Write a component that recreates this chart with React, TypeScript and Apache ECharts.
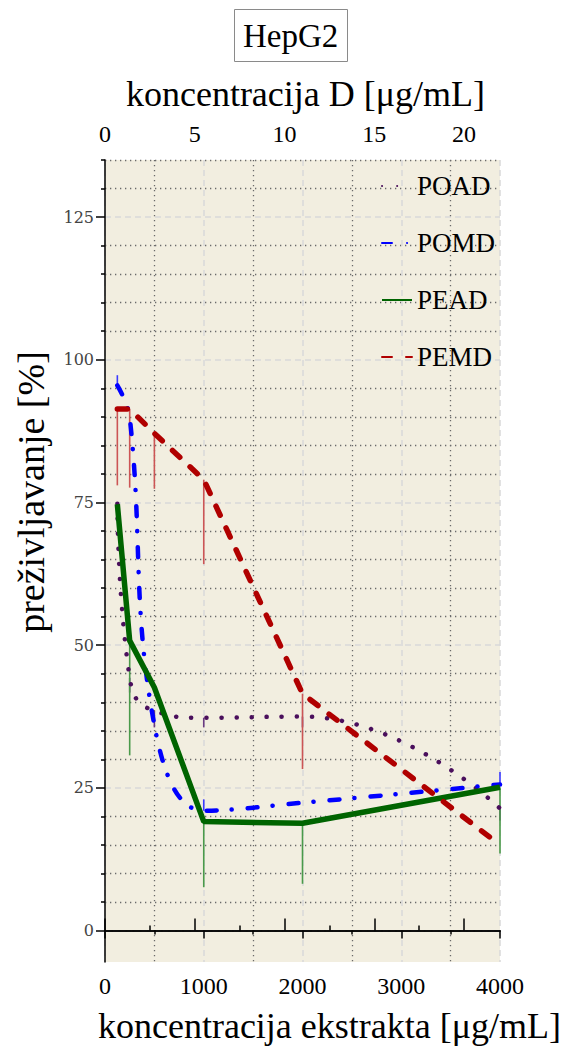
import React, { useEffect, useRef } from 'react';
import * as echarts from 'echarts';

// ---- data ----
const concentrations = [125, 250, 500, 1000, 2000, 4000];
const seriesNames = ['POAD', 'POMD', 'PEAD', 'PEMD'];
const poad = [74.8, 44.3, 38.5, 37.3, 37.5, 21.4];
const pomd = [95.5, 90.0, 36.0, 21.0, 22.4, 25.6];
const pead = [74.7, 50.8, 42.6, 19.1, 18.8, 25.1];
const pemd = [91.4, 91.4, 87.1, 79.0, 41.5, 15.0];

// end values of the (one-sided) error bars, null = not visible
const poadErr = [null, 41.7, 35.6, 35.6, 35.6, 19.3];
const pomdErr = [97.3, null, null, 23.0, null, 27.8];
const peadErr = [null, 30.7, null, 7.6, 8.2, 13.5];
const pemdErr = [78.0, 77.6, 77.4, 64.2, 28.3, null];

// ---- ticks ----
const yMajorTicks = [0, 25, 50, 75, 100, 125];
const yMinorTicks = [5, 10, 15, 20, 30, 35, 40, 45, 55, 60, 65, 70, 80, 85, 90, 95, 105, 110, 115, 120, 130, 135];
const topMajorTicks = [0, 5, 10, 15, 20];
const topMinorTicks = [2.5, 7.5, 12.5, 17.5];
const zeroLevel = [0];

const SERIF = 'Liberation Serif';
const colors = { POAD: '#4a0f5c', POMD: '#0000ff', PEAD: '#006400', PEMD: '#b00000' };
const errColors = { POAD: '#6a3a80', POMD: '#3a3aff', PEAD: '#4a9a4a', PEMD: '#cc5555' };

function pairs(vals: number[]) {
  return concentrations.map((c, i) => [c, vals[i]]);
}
function errPairs(vals: number[], errs: (number | null)[]) {
  const out: number[][] = [];
  concentrations.forEach((c, i) => {
    const e = errs[i];
    if (e !== null) out.push([c, vals[i], e]);
  });
  return out;
}

function errSeries(name: string, vals: number[], errs: (number | null)[], color: string) {
  return {
    type: 'custom',
    name: name + ' err',
    xAxisIndex: 0,
    yAxisIndex: 0,
    z: 1,
    silent: true,
    data: errPairs(vals, errs),
    renderItem: (params: any, api: any) => {
      const p1 = api.coord([api.value(0), api.value(1)]);
      const p2 = api.coord([api.value(0), api.value(2)]);
      return {
        type: 'line',
        shape: { x1: p1[0], y1: p1[1], x2: p2[0], y2: p2[1] },
        style: { stroke: color, lineWidth: 1.6 },
      };
    },
  };
}

const plain = (v: number) => String(v);

export default function App() {
  const ref = useRef<HTMLDivElement>(null);
  useEffect(() => {
    const chart = echarts.init(ref.current!, null, { renderer: 'svg' });
    const lightDash = { color: '#d9d9d9', width: 1.5, type: [6, 4] };
    const darkDot = { color: '#6a6a6a', width: 1.3, type: [1.3, 3.7] };
    const option: any = {
      animation: false,
      backgroundColor: '#ffffff',
      title: {
        text: 'HepG2',
        left: 234,
        top: 9,
        padding: [8, 9, 8, 9],
        borderColor: '#8a8a8a',
        borderWidth: 1,
        textStyle: { fontFamily: SERIF, fontSize: 33, fontWeight: 'normal', color: '#000', lineHeight: 37 },
      },
      grid: {
        left: 105,
        right: 64,
        top: 160,
        bottom: 89,
        show: true,
        containLabel: false,
        outerBoundsMode: 'none',
        backgroundColor: '#f2eee0',
        borderWidth: 0,
      },
      legend: {
        data: seriesNames,
        orient: 'vertical',
        left: 376,
        top: 166,
        itemWidth: 30,
        itemHeight: 14,
        itemGap: 27,
        itemStyle: { opacity: 0 },
        textStyle: { fontFamily: SERIF, fontSize: 27, color: '#000', lineHeight: 30 },
      },
      xAxis: [
        {
          type: 'value',
          position: 'bottom',
          min: 0,
          max: 4000,
          interval: 1000,
          name: 'koncentracija ekstrakta [μg/mL]',
          nameLocation: 'middle',
          nameGap: 46,
          nameTextStyle: { fontFamily: SERIF, fontSize: 36, color: '#000', padding: [0, 0, 0, 54] },
          axisLine: { show: true, lineStyle: { color: '#000', width: 1.5 } },
          axisTick: { show: true, inside: false, length: 8, lineStyle: { color: '#000', width: 1.5 } },
          minorTick: { show: true, splitNumber: 2, length: 4, lineStyle: { color: '#000', width: 1.5 } },
          axisLabel: { fontFamily: SERIF, fontSize: 24, color: '#000', margin: 12, formatter: plain },
          splitLine: { show: true, lineStyle: lightDash },
          minorSplitLine: { show: true, lineStyle: darkDot },
        },
        {
          type: 'value',
          position: 'top',
          min: 0,
          max: 22,
          name: 'koncentracija D [μg/mL]',
          nameLocation: 'middle',
          nameGap: 48,
          nameTextStyle: { fontFamily: SERIF, fontSize: 36, color: '#000', padding: [0, 0, 0, 6] },
          axisLine: { show: true, lineStyle: { color: '#000', width: 1.5 } },
          axisTick: { show: true, inside: false, length: 12, customValues: topMajorTicks, lineStyle: { color: '#000', width: 1.5 } },
          axisLabel: { customValues: topMajorTicks, fontFamily: SERIF, fontSize: 24, color: '#000', margin: 14, formatter: plain },
          splitLine: { show: false },
        },
        {
          type: 'value',
          position: 'top',
          min: 0,
          max: 22,
          axisLine: { show: false },
          axisTick: { show: true, inside: false, length: 5, customValues: topMinorTicks, lineStyle: { color: '#000', width: 1.5 } },
          axisLabel: { show: false },
          splitLine: { show: false },
        },
      ],
      yAxis: [
        {
          type: 'value',
          position: 'left',
          min: -5.5,
          max: 135,
          name: 'preživljavanje [%]',
          nameLocation: 'middle',
          nameRotate: 90,
          nameGap: 55,
          nameTextStyle: { fontFamily: SERIF, fontSize: 38, color: '#000', padding: [0, 0, 0, 138] },
          axisLine: { show: true, lineStyle: { color: '#000', width: 1.5 } },
          axisTick: { show: true, inside: false, length: 9, customValues: yMajorTicks, lineStyle: { color: '#000', width: 1.5 } },
          axisLabel: { customValues: yMajorTicks, fontFamily: 'DejaVu Serif', fontSize: 16, color: '#444', margin: 11, formatter: plain },
          splitLine: { show: true, lineStyle: lightDash },
        },
        {
          type: 'value',
          position: 'left',
          min: -5.5,
          max: 135,
          axisLine: { show: false },
          axisTick: { show: true, inside: false, length: 4, customValues: yMinorTicks, lineStyle: { color: '#000', width: 1.5 } },
          axisLabel: { show: false },
          splitLine: { show: true, lineStyle: darkDot },
        },
        {
          type: 'value',
          position: 'left',
          min: -5.5,
          max: 135,
          axisLine: { show: false },
          axisTick: { show: false, customValues: zeroLevel },
          axisLabel: { show: false },
          splitLine: { show: true, lineStyle: { color: '#b0b0b0', width: 2.2, type: [0.1, 7], cap: 'round' } },
        },
      ],
      series: [
        errSeries('POAD', poad, poadErr, errColors.POAD),
        errSeries('POMD', pomd, pomdErr, errColors.POMD),
        errSeries('PEAD', pead, peadErr, errColors.PEAD),
        errSeries('PEMD', pemd, pemdErr, errColors.PEMD),
        {
          type: 'line',
          name: 'POAD',
          data: pairs(poad),
          smooth: true,
          symbol: 'none',
          z: 3,
          color: colors.POAD,
          lineStyle: { color: colors.POAD, width: 4.5, type: [0.1, 15], cap: 'round' },
        },
        {
          type: 'line',
          name: 'POMD',
          data: pairs(pomd),
          smooth: 0.4,
          symbol: 'none',
          z: 4,
          color: colors.POMD,
          lineStyle: { color: colors.POMD, width: 4.5, type: [10, 15, 0.1, 16], cap: 'round' },
        },
        {
          type: 'line',
          name: 'PEAD',
          data: pairs(pead),
          symbol: 'none',
          z: 5,
          color: colors.PEAD,
          lineStyle: { color: colors.PEAD, width: 5.5, type: 'solid' },
        },
        {
          type: 'line',
          name: 'PEMD',
          data: pairs(pemd),
          symbol: 'none',
          z: 6,
          color: colors.PEMD,
          lineStyle: { color: colors.PEMD, width: 5.5, type: [10, 14], cap: 'round' },
        },
      ],
    };
    chart.setOption(option);
    return () => chart.dispose();
  }, []);
  return <div ref={ref} style={{ position: 'absolute', left: 0, top: 0, width: 564, height: 1051 }} />;
}
